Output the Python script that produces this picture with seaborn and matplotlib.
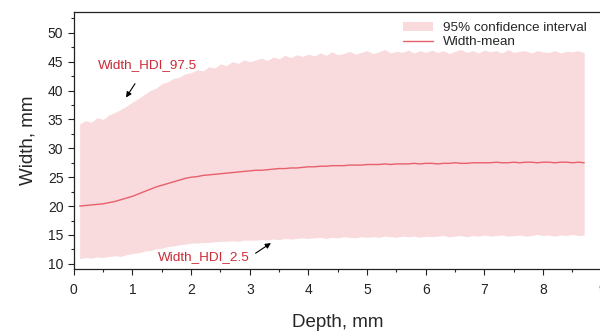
import numpy as np
import pandas as pd
import matplotlib
matplotlib.use("Agg")
import matplotlib.pyplot as plt
import seaborn as sns
from matplotlib.patches import Patch
from matplotlib.lines import Line2D

depth = np.round(np.arange(0.1, 8.71, 0.1), 1)

width_mean = [
    20.0, 20.1, 20.2, 20.3, 20.4, 20.6, 20.8, 21.1, 21.4, 21.7,
    22.1, 22.5, 22.9, 23.3, 23.6, 23.9, 24.2, 24.5, 24.8, 25.0,
    25.1, 25.3, 25.4, 25.5, 25.6, 25.7, 25.8, 25.9, 26.0, 26.1,
    26.2, 26.2, 26.3, 26.4, 26.5, 26.5, 26.6, 26.6, 26.7, 26.8,
    26.8, 26.9, 26.9, 27.0, 27.0, 27.0, 27.1, 27.1, 27.1, 27.2,
    27.2, 27.2, 27.3, 27.2, 27.3, 27.3, 27.3, 27.4, 27.3, 27.4,
    27.4, 27.3, 27.4, 27.4, 27.5, 27.4, 27.4, 27.5, 27.5, 27.5,
    27.5, 27.6, 27.5, 27.5, 27.6, 27.5, 27.6, 27.6, 27.5, 27.6,
    27.6, 27.5, 27.6, 27.6, 27.5, 27.6, 27.5,
]

hdi_97_5 = [
    34.2, 34.8, 34.5, 35.3, 35.0, 35.8, 36.2, 36.7, 37.3, 38.0,
    38.6, 39.3, 40.0, 40.4, 41.2, 41.5, 42.1, 42.3, 42.9, 43.1,
    43.6, 43.4, 44.1, 43.9, 44.6, 44.3, 45.0, 44.7, 45.3, 45.0,
    45.3, 45.6, 45.2, 45.8, 45.5, 46.1, 45.7, 46.2, 45.9, 46.3,
    46.0, 46.5, 46.1, 46.7, 46.2, 46.4, 46.8, 46.3, 46.6, 46.9,
    46.4, 46.7, 47.1, 46.5, 46.8, 46.6, 47.0, 46.5, 46.9, 46.6,
    47.0, 46.6, 46.9, 46.4, 46.8, 47.1, 46.6, 46.9, 46.5, 47.0,
    46.7, 46.9, 46.5, 47.1, 46.6, 46.8, 46.9, 46.5, 46.9, 46.7,
    46.6, 46.9, 46.5, 46.8, 46.7, 46.9, 46.5,
]

hdi_2_5 = [
    10.9, 11.1, 11.0, 11.2, 11.1, 11.3, 11.4, 11.3, 11.6, 11.8,
    11.9, 12.2, 12.3, 12.6, 12.7, 13.0, 13.1, 13.3, 13.4, 13.6,
    13.6, 13.7, 13.7, 13.8, 13.9, 13.9, 14.0, 13.9, 14.1, 14.1,
    14.1, 14.2, 14.1, 14.3, 14.2, 14.4, 14.3, 14.4, 14.5, 14.4,
    14.5, 14.6, 14.4, 14.6, 14.5, 14.7, 14.6, 14.5, 14.7, 14.6,
    14.7, 14.6, 14.8, 14.7, 14.6, 14.8, 14.7, 14.8, 14.6, 14.8,
    14.7, 14.8, 14.9, 14.7, 14.8, 14.9, 14.7, 14.9, 14.8, 15.0,
    14.8, 14.9, 15.0, 14.8, 14.9, 15.0, 14.8, 14.9, 15.1, 14.9,
    15.0, 14.8, 15.0, 14.9, 15.1, 14.9, 15.0,
]

df = pd.DataFrame({"depth": depth, "mean": width_mean,
                   "hi": hdi_97_5, "lo": hdi_2_5})

sns.set_style("ticks")
plt.rcParams["font.family"] = ["Liberation Sans", "DejaVu Sans"]

band_color = "#f9dadd"
line_color = "#e8606a"
text_color = "#cc2a36"

fig = plt.figure(figsize=(6, 3.33), dpi=100)
ax = fig.add_axes([0.123, 0.192, 0.88, 0.772])

ax.fill_between(df["depth"], df["lo"], df["hi"], color=band_color, lw=0)
sns.lineplot(data=df, x="depth", y="mean", ax=ax, color=line_color, lw=1.0)

ax.set_xlim(0, 9)
ax.set_ylim(9.1, 53.6)
ax.set_xticks(range(0, 10))
ax.set_xticks(np.arange(0, 9.01, 0.5), minor=True)
ax.set_yticks(range(10, 51, 5))
ax.set_yticks(np.arange(10, 53.6, 2.5), minor=True)
ax.tick_params(which="major", length=4, width=0.8, labelsize=10, colors="#222222")
ax.tick_params(which="minor", length=2, width=0.8)
ax.tick_params(axis="x", pad=6)
for s in ax.spines.values():
    s.set_linewidth(0.9)
    s.set_color("#222222")

ax.set_xlabel("Depth, mm", fontsize=13.5, labelpad=12)
ax.set_ylabel("Width, mm", fontsize=13.5, labelpad=8)

ax.annotate("Width_HDI_97.5", xy=(0.89, 38.8), xytext=(1.25, 44.4),
            ha="center", va="center", fontsize=9.7, color=text_color,
            arrowprops=dict(arrowstyle="-|>", color="black", lw=0.8,
                            mutation_scale=8, shrinkA=8, shrinkB=0))
ax.annotate("Width_HDI_2.5", xy=(3.36, 13.6), xytext=(2.22, 11.2),
            ha="center", va="center", fontsize=9.7, color=text_color,
            arrowprops=dict(arrowstyle="-|>", color="black", lw=0.8,
                            mutation_scale=8, shrinkA=2, shrinkB=0,
                            relpos=(1.0, 0.5)))

handles = [Patch(facecolor=band_color, edgecolor="none", label="95% confidence interval"),
           Line2D([0], [0], color=line_color, lw=1.0, label="Width-mean")]
ax.legend(handles=handles, loc="upper right", bbox_to_anchor=(0.995, 1.01),
          frameon=False, fontsize=9.7, handlelength=2.2, labelspacing=0.15)

fig.savefig("out.png", dpi=100)
